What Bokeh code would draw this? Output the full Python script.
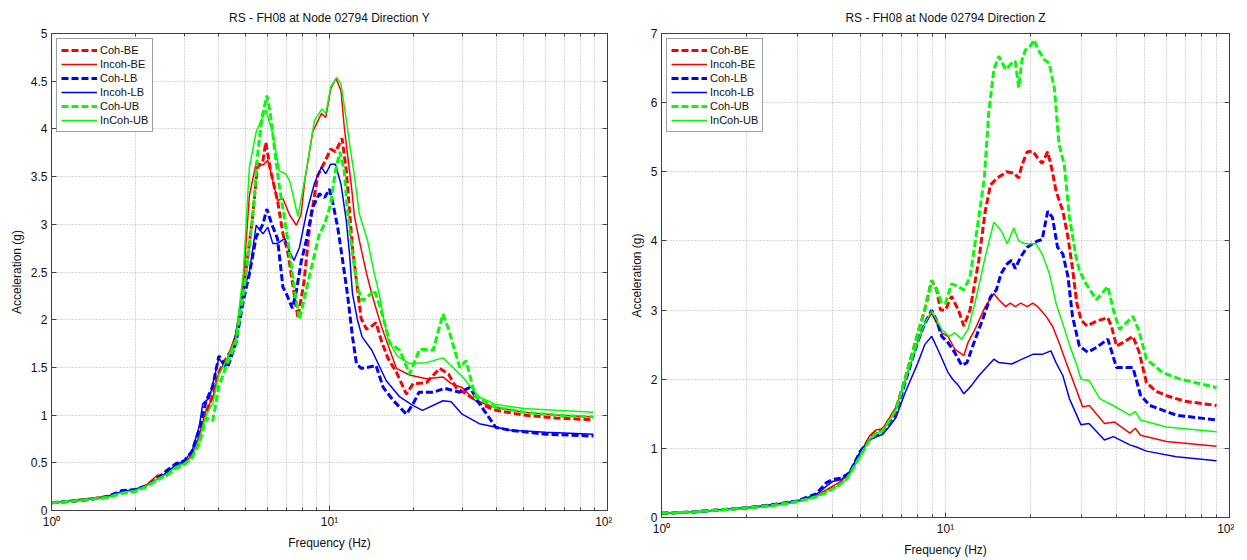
from bokeh.plotting import figure
from bokeh.models import FixedTicker, Legend, LegendItem, LinearAxis, LogAxis, Spacer
from bokeh.layouts import row
from bokeh.embed import file_html
from bokeh.resources import INLINE

# ---------------- data: Direction Y (frequency Hz, acceleration g) ----------------
y_coh_be = [(1.0,0.08),(1.2,0.10),(1.4,0.12),(1.6,0.14),(1.8,0.19),(2.0,0.21),(2.2,0.26),(2.4,0.35),(2.6,0.37),(2.8,0.46),
            (3.0,0.50),(3.2,0.57),(3.4,0.76),(3.6,1.03),(3.8,1.20),(4.0,1.45),(4.3,1.62),(4.6,1.75),(5.0,2.50),(5.3,3.10),
            (5.5,3.60),(5.75,3.65),(5.9,3.86),(6.15,3.55),(6.5,3.25),(6.8,2.90),(7.1,2.69),(7.4,2.34),(7.7,2.02),(8.1,2.40),
            (8.5,3.00),(9.07,3.51),(9.6,3.65),(10.1,3.79),(10.5,3.76),(11.1,3.90),(11.5,3.56),(11.8,3.14),(12.1,2.75),(12.6,2.33),
            (13.0,2.01),(13.6,1.90),(14.3,1.94),(14.7,1.97),(15.4,1.77),(16.2,1.60),(17.4,1.45),(18.9,1.22),(20.0,1.33),(22.3,1.34),
            (24.9,1.49),(26.8,1.43),(28.5,1.29),(32.2,1.19),(36.0,1.10),(39.7,1.05),(50.0,1.00),(65.0,0.97),(89.0,0.95)]
y_incoh_be = [(1.0,0.08),(1.2,0.11),(1.4,0.13),(1.6,0.15),(1.8,0.20),(2.0,0.22),(2.2,0.27),(2.4,0.37),(2.6,0.38),(2.8,0.47),
              (3.0,0.50),(3.2,0.58),(3.4,0.78),(3.6,1.05),(3.8,1.18),(4.0,1.45),(4.3,1.60),(4.6,1.85),(4.9,2.40),(5.15,3.30),
              (5.45,3.65),(5.76,3.62),(6.0,3.67),(6.25,3.46),(6.5,3.25),(6.8,3.27),(7.18,3.10),(7.6,2.99),(7.9,3.10),(8.15,3.46),
              (8.7,3.97),(9.35,4.16),(9.7,4.12),(10.1,4.42),(10.55,4.53),(11.0,4.40),(11.3,4.02),(11.6,3.74),(12.0,3.39),(12.3,3.08),
              (12.8,2.83),(13.6,2.48),(14.2,2.27),(14.9,2.06),(15.5,1.90),(17.4,1.49),(19.4,1.42),(22.3,1.38),(25.6,1.40),(27.4,1.33),
              (30.0,1.29),(33.5,1.15),(39.7,1.08),(50.0,1.03),(65.0,1.00),(89.0,0.98)]
y_coh_lb = [(1.0,0.08),(1.2,0.10),(1.4,0.12),(1.6,0.15),(1.8,0.21),(2.0,0.22),(2.2,0.26),(2.4,0.33),(2.6,0.42),(2.8,0.49),
            (3.0,0.52),(3.2,0.62),(3.4,0.85),(3.6,1.15),(3.8,1.30),(4.0,1.62),(4.3,1.50),(4.6,1.75),(4.9,2.20),(5.15,2.48),
            (5.45,2.87),(5.76,3.00),(5.95,3.16),(6.2,3.00),(6.5,2.85),(6.8,2.34),(7.0,2.27),(7.35,2.12),(7.6,2.30),(7.9,2.60),
            (8.25,2.83),(8.7,3.18),(9.2,3.32),(9.6,3.28),(10.0,3.37),(10.3,3.21),(10.7,2.97),(11.1,2.66),(11.6,2.27),(12.1,1.82),
            (12.5,1.54),(13.0,1.49),(13.7,1.50),(14.7,1.52),(15.6,1.29),(17.0,1.15),(18.9,1.01),(20.0,1.12),(21.0,1.24),(23.6,1.24),
            (26.0,1.28),(29.4,1.24),(32.0,1.29),(34.6,1.12),(39.7,0.87),(45.0,0.84),(60.0,0.80),(89.0,0.78)]
y_incoh_lb = [(1.0,0.08),(1.2,0.10),(1.4,0.12),(1.6,0.15),(1.8,0.20),(2.0,0.22),(2.2,0.26),(2.4,0.33),(2.6,0.40),(2.8,0.48),
              (3.0,0.52),(3.2,0.62),(3.4,0.88),(3.5,1.12),(3.7,1.18),(4.0,1.60),(4.2,1.50),(4.5,1.70),(4.9,2.30),(5.15,2.50),
              (5.45,2.99),(5.76,2.90),(6.0,2.97),(6.25,2.80),(6.5,2.80),(6.9,2.85),(7.18,2.72),(7.45,2.62),(7.8,2.76),(8.25,3.11),
              (8.83,3.43),(9.35,3.60),(9.7,3.53),(10.1,3.63),(10.5,3.63),(11.0,3.42),(11.5,3.03),(11.8,2.69),(12.1,2.27),(12.6,2.00),
              (13.1,1.82),(14.2,1.68),(16.0,1.36),(17.9,1.19),(20.0,1.10),(21.6,1.05),(25.6,1.15),(27.4,1.14),(30.0,1.01),(34.6,0.91),
              (45.0,0.84),(60.0,0.82),(89.0,0.80)]
y_coh_ub = [(1.0,0.08),(1.2,0.10),(1.4,0.12),(1.6,0.14),(1.8,0.18),(2.0,0.20),(2.2,0.25),(2.4,0.32),(2.6,0.37),(2.8,0.44),
            (3.0,0.48),(3.2,0.55),(3.4,0.70),(3.6,0.97),(3.8,0.94),(4.0,1.30),(4.3,1.55),(4.6,1.75),(5.0,2.45),(5.3,3.10),
            (5.5,3.70),(5.7,4.10),(5.95,4.35),(6.1,4.20),(6.43,3.65),(6.6,3.40),(7.1,2.81),(7.5,2.30),(7.8,2.00),(8.5,2.48),
            (9.2,2.90),(9.6,3.00),(10.1,3.21),(10.5,3.56),(10.9,3.76),(11.3,3.56),(11.6,3.14),(12.1,2.69),(12.6,2.34),(13.1,2.20),
            (13.7,2.24),(14.5,2.31),(15.1,2.16),(15.7,1.99),(16.5,1.75),(17.9,1.68),(19.4,1.43),(21.1,1.69),(23.6,1.68),(25.6,2.06),
            (26.8,1.90),(29.4,1.50),(31.0,1.57),(33.5,1.19),(39.7,1.08),(50.0,1.03),(65.0,1.00),(89.0,0.98)]
y_incoh_ub = [(1.0,0.08),(1.2,0.10),(1.4,0.12),(1.6,0.14),(1.8,0.19),(2.0,0.21),(2.2,0.26),(2.4,0.33),(2.6,0.38),(2.8,0.46),
              (3.0,0.49),(3.2,0.56),(3.4,0.74),(3.6,1.00),(3.8,1.12),(4.0,1.42),(4.3,1.60),(4.6,1.80),(4.9,2.50),(5.15,3.60),
              (5.45,3.97),(5.9,4.20),(6.25,3.95),(6.6,3.56),(6.95,3.53),(7.2,3.45),(7.7,3.08),(8.25,3.56),(8.83,4.09),(9.4,4.21),
              (9.7,4.16),(10.1,4.44),(10.6,4.54),(11.0,4.47),(11.5,4.09),(11.8,3.85),(12.3,3.50),(12.8,3.11),(13.7,2.83),(14.5,2.48),
              (15.1,2.27),(15.7,1.99),(16.3,1.78),(17.5,1.62),(19.4,1.54),(22.3,1.55),(25.6,1.60),(30.1,1.40),(34.6,1.19),(39.7,1.11),
              (50.0,1.07),(65.0,1.05),(89.0,1.03)]

# ---------------- data: Direction Z ----------------
z_coh_be = [(1.0,0.06),(1.3,0.08),(1.6,0.11),(2.0,0.14),(2.5,0.18),(3.0,0.23),(3.5,0.31),(3.8,0.38),(4.2,0.47),(4.5,0.58),
            (5.0,0.90),(5.4,1.15),(5.7,1.25),(6.0,1.27),(6.3,1.40),(6.7,1.58),(7.2,2.00),(8.0,2.67),(8.45,3.00),(8.94,3.43),
            (9.3,3.30),(9.6,3.00),(10.0,3.00),(10.5,3.20),(11.1,3.00),(11.6,2.77),(12.2,3.00),(13.1,3.72),(13.8,4.43),(14.4,4.81),
            (15.2,4.91),(15.9,4.96),(16.4,5.00),(17.4,4.98),(18.1,4.91),(18.6,5.10),(19.4,5.29),(20.3,5.30),(21.1,5.20),(21.9,5.12),
            (22.9,5.29),(23.8,5.00),(24.5,4.72),(25.9,4.43),(27.0,4.05),(28.0,3.60),(29.0,3.10),(30.0,2.86),(31.5,2.77),(34.0,2.84),
            (37.3,2.89),(38.5,2.75),(40.0,2.48),(43.0,2.55),(45.7,2.62),(48.0,2.40),(51.0,1.95),(55.0,1.83),(60.0,1.76),(70.0,1.68),
            (90.0,1.62)]
z_incoh_be = [(1.0,0.06),(1.3,0.08),(1.6,0.11),(2.0,0.14),(2.5,0.18),(3.0,0.23),(3.5,0.31),(3.8,0.40),(4.2,0.50),(4.5,0.60),
              (5.0,0.92),(5.4,1.18),(5.7,1.27),(6.0,1.28),(6.3,1.42),(6.7,1.60),(7.2,1.97),(8.0,2.55),(8.45,2.80),(8.94,2.95),
              (9.7,2.67),(10.2,2.62),(10.8,2.43),(11.6,2.34),(12.0,2.53),(12.7,2.72),(13.8,3.05),(14.8,3.24),(15.4,3.15),(16.3,3.05),
              (16.9,3.10),(17.6,3.05),(18.4,3.10),(19.4,3.05),(20.3,3.10),(21.1,3.05),(22.6,2.91),(23.8,2.77),(25.1,2.53),(26.6,2.24),
              (28.0,2.00),(30.4,1.60),(32.1,1.62),(36.3,1.36),(39.4,1.38),(44.6,1.22),(46.6,1.29),(48.6,1.19),(60.0,1.10),(90.0,1.03)]
z_coh_lb = [(1.0,0.06),(1.3,0.08),(1.6,0.11),(2.0,0.14),(2.5,0.19),(3.0,0.24),(3.5,0.34),(3.8,0.50),(4.0,0.55),(4.3,0.57),
            (4.6,0.65),(5.0,0.95),(5.4,1.12),(5.7,1.18),(6.0,1.22),(6.3,1.35),(6.7,1.50),(7.2,1.95),(8.0,2.55),(8.45,2.80),
            (8.94,3.00),(9.3,2.85),(9.7,2.62),(10.2,2.53),(10.8,2.38),(11.4,2.20),(11.9,2.24),(12.6,2.53),(13.5,2.86),(14.4,3.19),
            (15.1,3.29),(15.7,3.53),(16.5,3.67),(17.1,3.72),(17.6,3.60),(18.4,3.77),(19.4,3.91),(20.3,3.96),(21.1,4.00),(21.9,4.02),
            (22.9,4.43),(23.8,4.34),(24.8,3.91),(25.9,3.81),(27.0,3.48),(28.0,2.91),(29.6,2.48),(31.7,2.39),(34.0,2.46),(37.3,2.58),
            (40.0,2.17),(45.7,2.17),(48.6,1.77),(52.4,1.62),(65.0,1.48),(90.0,1.41)]
z_incoh_lb = [(1.0,0.06),(1.3,0.08),(1.6,0.11),(2.0,0.14),(2.5,0.19),(3.0,0.24),(3.5,0.33),(3.8,0.45),(4.0,0.52),(4.3,0.55),
              (4.6,0.66),(5.0,0.95),(5.4,1.12),(5.7,1.17),(6.0,1.20),(6.3,1.30),(6.7,1.45),(7.2,1.80),(8.0,2.24),(8.45,2.50),
              (8.94,2.62),(9.4,2.43),(10.2,2.10),(10.6,2.00),(11.1,1.91),(11.6,1.79),(12.3,1.90),(13.1,2.05),(14.8,2.29),(15.4,2.24),
              (17.1,2.22),(18.6,2.29),(20.3,2.36),(21.9,2.36),(23.5,2.41),(24.5,2.24),(25.9,2.05),(27.3,1.72),(30.0,1.34),(32.0,1.36),
              (36.3,1.12),(39.0,1.17),(44.6,1.05),(47.0,1.02),(51.0,0.96),(65.0,0.88),(90.0,0.82)]
z_coh_ub = [(1.0,0.06),(1.3,0.08),(1.6,0.11),(2.0,0.14),(2.5,0.18),(3.0,0.23),(3.5,0.30),(3.8,0.36),(4.2,0.46),(4.5,0.56),
            (5.0,0.88),(5.4,1.12),(5.7,1.22),(6.0,1.25),(6.3,1.38),(6.7,1.56),(7.2,2.00),(8.0,2.67),(8.45,3.00),(8.94,3.43),
            (9.3,3.30),(9.7,3.10),(10.0,3.10),(10.5,3.38),(11.1,3.34),(11.6,3.29),(12.2,3.48),(12.9,4.15),(13.7,4.91),(14.2,5.86),
            (14.8,6.48),(15.4,6.67),(16.3,6.48),(17.1,6.57),(17.6,6.60),(18.1,6.22),(18.6,6.62),(19.1,6.76),(20.0,6.83),(20.5,6.91),
            (21.1,6.78),(22.3,6.62),(23.2,6.57),(24.2,6.19),(25.1,5.40),(26.2,5.10),(27.3,4.35),(28.8,3.77),(29.6,3.58),(31.0,3.40),
            (34.0,3.15),(37.3,3.34),(39.0,3.00),(41.0,2.72),(45.7,2.91),(48.0,2.70),(51.0,2.29),(58.0,2.10),(67.0,2.00),(90.0,1.88)]
z_incoh_ub = [(1.0,0.06),(1.3,0.08),(1.6,0.10),(2.0,0.13),(2.5,0.17),(3.0,0.22),(3.5,0.30),(3.8,0.37),(4.2,0.46),(4.5,0.56),
              (5.0,0.88),(5.4,1.13),(5.7,1.22),(6.0,1.25),(6.3,1.38),(6.7,1.56),(7.2,1.97),(8.0,2.55),(8.45,2.80),(8.94,2.99),
              (9.7,2.72),(10.3,2.62),(10.8,2.67),(11.4,2.58),(12.0,2.72),(12.7,3.10),(13.8,3.77),(14.8,4.27),(15.7,4.15),(16.5,3.96),
              (17.4,4.19),(18.1,4.00),(19.1,3.96),(20.8,3.96),(21.9,3.81),(23.2,3.53),(24.5,3.10),(25.9,2.80),(27.3,2.50),(28.8,2.24),
              (30.0,2.00),(32.1,1.98),(34.9,1.72),(38.9,1.62),(44.6,1.48),(46.6,1.53),(48.6,1.41),(60.0,1.31),(90.0,1.24)]

series_names = ["Coh-BE", "Incoh-BE", "Coh-LB", "Incoh-LB", "Coh-UB", "InCoh-UB"]
series_colors = ["#ff0000", "#ff0000", "#0000ff", "#0000ff", "#00ff00", "#00ff00"]
series_dashed = [True, False, True, False, True, False]

x_major = [1, 10, 100]
x_minor = [2, 3, 4, 5, 6, 7, 8, 9, 20, 30, 40, 50, 60, 70, 80, 90]
x_labels = {1: "10\u2070", 10: "10\u00b9", 100: "10\u00b2"}
yticks_y = [0, 0.5, 1, 1.5, 2, 2.5, 3, 3.5, 4, 4.5, 5]
ylabels_y = ["0", "0.5", "1", "1.5", "2", "2.5", "3", "3.5", "4", "4.5", "5"]
yticks_z = [0, 1, 2, 3, 4, 5, 6, 7]
ylabels_z = ["0", "1", "2", "3", "4", "5", "6", "7"]

FONT = "Liberation Sans"
AXC = "#404040"
GRIDC = "#b0b0b0"


def make_panel(title, curves, ymax, yticks, ylabels, fw, fh, title_gap):
    p = figure(x_axis_type="log", x_range=(1, 100), y_range=(0, ymax),
               frame_width=fw, frame_height=fh,
               output_backend="svg", toolbar_location=None, title=title)
    p.title.text_font = FONT
    p.title.text_font_size = "12px"
    p.title.text_font_style = "normal"
    p.title.align = "center"
    p.title.text_color = "#111111"
    p.title.standoff = title_gap
    p.background_fill_color = "white"
    p.border_fill_color = "white"
    p.outline_line_color = AXC
    p.outline_line_width = 1

    xt = FixedTicker(ticks=x_major, minor_ticks=x_minor)
    yt = FixedTicker(ticks=yticks, minor_ticks=[])
    p.xaxis.ticker = xt
    p.yaxis.ticker = yt
    p.xaxis.major_label_overrides = dict(x_labels)
    p.yaxis.major_label_overrides = {t: l for t, l in zip(yticks, ylabels)}
    for ax in (p.xaxis[0], p.yaxis[0]):
        ax.axis_line_color = AXC
        ax.major_tick_line_color = AXC
        ax.minor_tick_line_color = AXC
        ax.major_tick_in = 5
        ax.major_tick_out = 0
        ax.minor_tick_in = 3
        ax.minor_tick_out = 0
        ax.major_label_text_font = FONT
        ax.major_label_text_font_size = "12px"
        ax.major_label_text_color = "#111111"
        ax.axis_label_text_font = FONT
        ax.axis_label_text_font_size = "12px"
        ax.axis_label_text_font_style = "normal"
        ax.axis_label_text_color = "#111111"
        ax.major_label_standoff = 4
        ax.axis_label_standoff = 4
    p.xaxis.axis_label = "Frequency (Hz)"
    p.yaxis.axis_label = "Acceleration (g)"

    # box ticks on the top and right edges (labels invisible)
    top = LogAxis(ticker=xt, major_label_text_font_size="1px", major_label_text_alpha=0.0,
                  major_label_standoff=0,
                  major_tick_in=5, major_tick_out=0, minor_tick_in=3, minor_tick_out=0,
                  axis_line_color=AXC, major_tick_line_color=AXC, minor_tick_line_color=AXC)
    right = LinearAxis(ticker=yt, major_label_text_font_size="1px", major_label_text_alpha=0.0,
                       major_label_standoff=0,
                       major_tick_in=5, major_tick_out=0, minor_tick_out=0,
                       axis_line_color=AXC, major_tick_line_color=AXC)
    p.add_layout(top, "above")
    p.add_layout(right, "right")

    for g in (p.xgrid[0], p.ygrid[0]):
        g.grid_line_color = GRIDC
        g.grid_line_dash = "1 2"
        g.grid_line_width = 1
    p.xgrid.minor_grid_line_color = GRIDC
    p.xgrid.minor_grid_line_dash = "1 2"

    items = []
    for name, color, dashed, data in zip(series_names, series_colors, series_dashed, curves):
        f = [d[0] for d in data]
        a = [d[1] for d in data]
        if dashed:
            r = p.line(f, a, line_color=color, line_width=3, line_dash="7 3")
        else:
            r = p.line(f, a, line_color=color, line_width=1.5)
        items.append(LegendItem(label=name, renderers=[r]))

    leg = Legend(items=items, location="top_left")
    leg.margin = 5
    leg.padding = 4
    leg.spacing = 0
    leg.label_height = 14
    leg.glyph_height = 14
    leg.glyph_width = 36
    leg.label_standoff = 3
    leg.label_text_font = FONT
    leg.label_text_font_size = "11px"
    leg.label_text_color = "#111111"
    leg.border_line_color = AXC
    leg.border_line_width = 1
    leg.background_fill_alpha = 1.0
    p.add_layout(leg)
    return p


pY = make_panel("RS - FH08 at Node 02794 Direction Y",
                [y_coh_be, y_incoh_be, y_coh_lb, y_incoh_lb, y_coh_ub, y_incoh_ub],
                5, yticks_y, ylabels_y, 556, 477, 17)
pZ = make_panel("RS - FH08 at Node 02794 Direction Z",
                [z_coh_be, z_incoh_be, z_coh_lb, z_incoh_lb, z_coh_ub, z_incoh_ub],
                7, yticks_z, ylabels_z, 568, 484, 17)

layout = row(Spacer(width=6, height=10), pY, Spacer(width=14, height=10), pZ)
open("out.html", "w").write(file_html(layout, INLINE))
